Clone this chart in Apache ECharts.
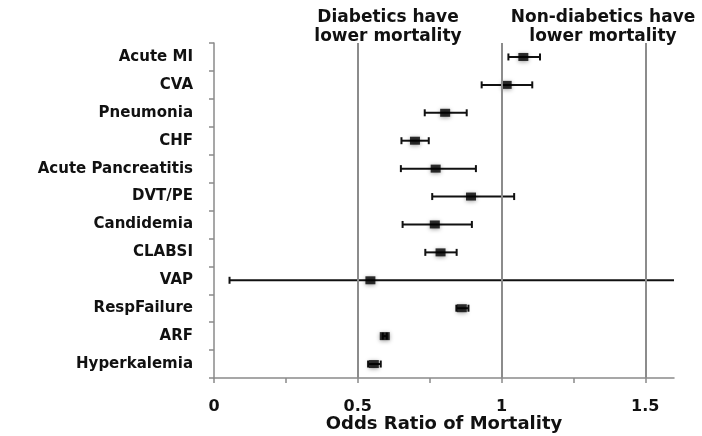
<!DOCTYPE html>
<html>
<head>
<meta charset="utf-8">
<script src="https://cdn.jsdelivr.net/npm/echarts@6/dist/echarts.min.js"></script>
<style>
  html, body { margin: 0; padding: 0; background: #ffffff; }
  #chart { width: 702px; height: 436px; }
</style>
</head>
<body>
<div id="chart"></div>
<script>
// ---- data ----
const categories = ['Acute MI', 'CVA', 'Pneumonia', 'CHF', 'Acute Pancreatitis', 'DVT/PE',
  'Candidemia', 'CLABSI', 'VAP', 'RespFailure', 'ARF', 'Hyperkalemia'];
const oddsRatio = [1.076, 1.018, 0.804, 0.699, 0.771, 0.894, 0.768, 0.788, 0.544, 0.862, 0.594, 0.556];
const ciLower   = [1.024, 0.931, 0.733, 0.652, 0.650, 0.759, 0.656, 0.735, 0.054, 0.843, 0.587, 0.536];
const ciUpper   = [1.134, 1.107, 0.879, 0.747, 0.911, 1.044, 0.897, 0.844, 1.700, 0.885, 0.601, 0.580];
const gridValues = [0.5, 1, 1.5];
const xLabelValues = [0, 0.5, 1, 1.5];
const xTickValues = [0, 0.25, 0.5, 0.75, 1, 1.25, 1.5];
const leftNote = 'Diabetics have\nlower mortality';
const rightNote = 'Non-diabetics have\nlower mortality';
const xTitle = 'Odds Ratio of Mortality';

const FONT = '"DejaVu Sans", "Open Sans", sans-serif';

const chart = echarts.init(document.getElementById('chart'), null, { renderer: 'canvas' });

const errData = categories.map((c, i) => [i, ciLower[i], ciUpper[i]]);
const pointData = categories.map((c, i) => [oddsRatio[i], i]);

chart.setOption({
  animation: false,
  backgroundColor: '#ffffff',
  grid: { left: 214, right: 28, top: 43, bottom: 58, containLabel: false, outerBoundsMode: 'none' },
  graphic: [
    { type: 'text', x: 388, y: 8, style: { text: leftNote, textAlign: 'center', fill: '#111', font: 'bold 17px ' + FONT, lineHeight: 19 } },
    { type: 'text', x: 603, y: 8, style: { text: rightNote, textAlign: 'center', fill: '#111', font: 'bold 17px ' + FONT, lineHeight: 19 } }
  ],
  xAxis: {
    type: 'value',
    min: 0,
    max: 1.6,
    interval: 0.5,
    name: xTitle,
    nameLocation: 'middle',
    nameGap: 37,
    nameMoveOverlap: false,
    nameTextStyle: { fontFamily: FONT, fontWeight: 'bold', fontSize: 18, color: '#111' },
    axisLine: { show: true, lineStyle: { color: '#8a8a8a', width: 1.5 } },
    axisTick: { show: true, length: 5, lineStyle: { color: '#8a8a8a', width: 1.5 }, customValues: xTickValues },
    splitLine: { show: false },
    axisLabel: {
      customValues: xLabelValues,
      margin: 21,
      fontFamily: FONT, fontWeight: 'bold', fontSize: 16, color: '#111',
      formatter: v => String(v)
    }
  },
  yAxis: {
    type: 'category',
    data: categories,
    inverse: true,
    axisLine: { show: true, lineStyle: { color: '#8a8a8a', width: 1.5 } },
    axisTick: { show: true, length: 5, alignWithLabel: false, lineStyle: { color: '#8a8a8a', width: 1.5 } },
    splitLine: { show: false },
    axisLabel: { margin: 21, fontFamily: FONT, fontWeight: 'bold', fontSize: 15, color: '#111' }
  },
  series: [
    {
      type: 'scatter',
      data: [],
      silent: true,
      z: 1,
      markLine: {
        silent: true,
        symbol: ['none', 'none'],
        label: { show: false },
        lineStyle: { color: '#8c8c8c', width: 2, type: 'solid' },
        data: gridValues.map(v => ({ xAxis: v }))
      }
    },
    {
      type: 'custom',
      z: 3,
      clip: true,
      data: errData,
      encode: { x: [1, 2], y: 0 },
      renderItem: function (params, api) {
        const cat = api.value(0);
        const p1 = api.coord([api.value(1), cat]);
        const p2 = api.coord([api.value(2), cat]);
        const h = 3.5;
        const style = { stroke: '#111', lineWidth: 2 };
        const cs = params.coordSys;
        const xMax = cs.x + cs.width;
        const children = [
          { type: 'line', shape: { x1: p1[0], y1: p1[1], x2: Math.min(p2[0], xMax), y2: p2[1] }, style: style }
        ];
        if (p1[0] >= cs.x) children.push({ type: 'line', shape: { x1: p1[0], y1: p1[1] - h, x2: p1[0], y2: p1[1] + h }, style: style });
        if (p2[0] <= xMax) children.push({ type: 'line', shape: { x1: p2[0], y1: p2[1] - h, x2: p2[0], y2: p2[1] + h }, style: style });
        return { type: 'group', children: children };
      }
    },
    {
      type: 'scatter',
      z: 4,
      data: pointData,
      symbol: 'rect',
      symbolSize: [10, 8],
      itemStyle: { color: '#000', shadowBlur: 4, shadowColor: 'rgba(0,0,0,0.45)', shadowOffsetY: 1 }
    }
  ]
});
</script>
</body>
</html>
